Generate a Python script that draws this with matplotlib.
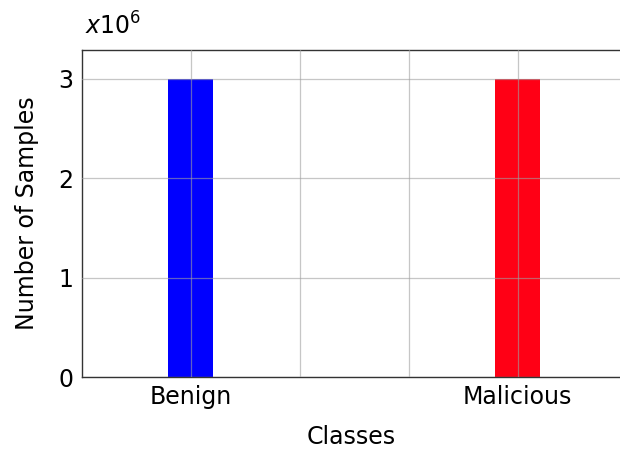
import matplotlib.pyplot as plt

classes = ["Benign", "Malicious"]
positions = [1, 4]
samples = [3.0e6, 3.0e6]
colors = ["#0000ff", "#ff0015"]

plt.rcParams['font.family'] = ['DejaVu Sans']

fig = plt.figure(figsize=(6.2, 4.5), dpi=100)
ax = fig.add_axes([0.132, 0.162, 0.868, 0.727])

scale = 1e6
ax.bar(positions, [s / scale for s in samples], width=0.41, color=colors, zorder=1)

ax.set_xlim(0, 4.94)
ax.set_ylim(0, 3.29)
ax.set_xticks([1, 2, 3, 4])
ax.set_xticklabels(["Benign", "", "", "Malicious"], fontsize=17)
ax.set_yticks([0, 1, 2, 3])
ax.set_yticklabels(["0", "1", "2", "3"], fontsize=17)
ax.tick_params(length=0, pad=6)

ax.grid(True, color="#a0a0a0", alpha=0.6, linewidth=0.9, zorder=3)
ax.set_axisbelow(False)
for side in ["left", "top", "bottom"]:
    ax.spines[side].set_color("#333333")
    ax.spines[side].set_linewidth(1.0)
ax.spines["right"].set_visible(False)

ax.set_xlabel("Classes", fontsize=17, labelpad=11)
ax.set_ylabel("Number of Samples", fontsize=17, labelpad=14)
fig.text(0.137, 0.912, r"$x$10$^6$", fontsize=17, ha="left", va="bottom")

fig.savefig("out.png", dpi=100)
